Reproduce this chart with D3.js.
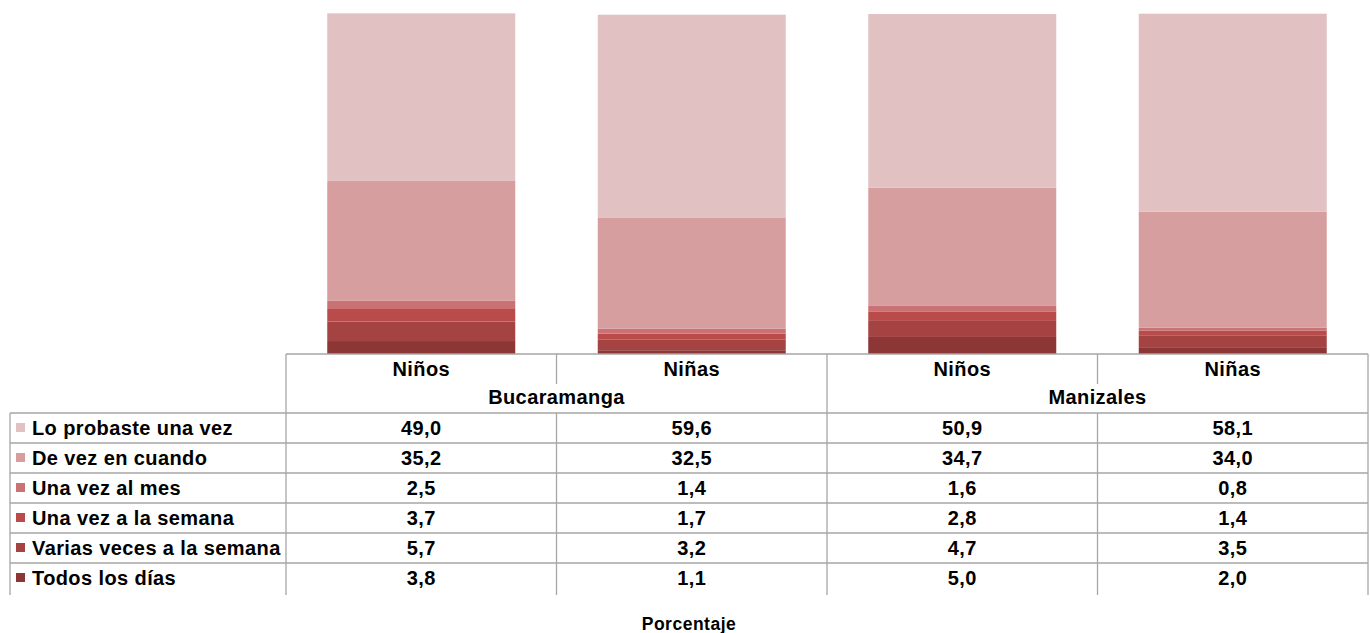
<!DOCTYPE html>
<html><head><meta charset="utf-8">
<script src="https://cdn.jsdelivr.net/npm/d3@7"></script>
<style>body{margin:0;background:#fff}svg{display:block;font-family:"Liberation Sans",Arial,sans-serif}</style>
</head><body><svg id="c" width="1370" height="633"></svg>
<script>
const groups = ["Niños","Niñas","Niños","Niñas"];
const cities = ["Bucaramanga","Manizales"];
const series = ["Lo probaste una vez","De vez en cuando","Una vez al mes","Una vez a la semana","Varias veces a la semana","Todos los días"];
const loProbaste = [49.0,59.6,50.9,58.1];
const deVez = [35.2,32.5,34.7,34.0];
const unaVezMes = [2.5,1.4,1.6,0.8];
const unaVezSemana = [3.7,1.7,2.8,1.4];
const variasVeces = [5.7,3.2,4.7,3.5];
const todosDias = [3.8,1.1,5.0,2.0];
const colors = ["#e2c1c3","#d69e9f","#c97173","#b94c4b","#a44342","#8c3636"];

const values = [loProbaste,deVez,unaVezMes,unaVezSemana,variasVeces,todosDias];
const svg = d3.select("#c");
const left=286, right=1368, tableLeft=10;
const plotBottom=354, plotTop=13;
const x = d3.scaleBand().domain(d3.range(4)).range([left,right]).paddingInner(0.305).paddingOuter(0.1525);
const colStep = (right-left)/4;
const y = d3.scaleLinear().domain([0,100]).range([plotBottom,plotTop]);

const rows = d3.range(4).map(i=>{const o={i};series.forEach((s,k)=>o[s]=values[k][i]);return o;});
const stackOrder = series.slice().reverse();
const stacked = d3.stack().keys(stackOrder)(rows);
svg.append("g").selectAll("g").data(stacked).join("g")
  .attr("fill",d=>colors[series.indexOf(d.key)])
  .selectAll("rect").data(d=>d).join("rect")
  .attr("x",d=>x(d.data.i)).attr("width",x.bandwidth())
  .attr("y",d=>y(d[1])).attr("height",d=>y(d[0])-y(d[1]));

const lineC="#a6a6a6";
const g=svg.append("g").attr("stroke",lineC).attr("stroke-width",1.3);
const rowH=30, headTop=354, headMid=384, bodyTop=413;
const rowYs = d3.range(7).map(k=>bodyTop+k*rowH);
const bottom = 595;
const colX = d3.range(5).map(k=>left+k*colStep);
g.append("line").attr("x1",left).attr("x2",right).attr("y1",headTop).attr("y2",headTop);
rowYs.slice(0,6).forEach(yy=>g.append("line").attr("x1",tableLeft).attr("x2",right).attr("y1",yy).attr("y2",yy));
g.append("line").attr("x1",tableLeft).attr("x2",tableLeft).attr("y1",bodyTop).attr("y2",bottom);
[0,2,4].forEach(k=>g.append("line").attr("x1",colX[k]).attr("x2",colX[k]).attr("y1",headTop).attr("y2",bottom));
[1,3].forEach(k=>{
  g.append("line").attr("x1",colX[k]).attr("x2",colX[k]).attr("y1",headTop).attr("y2",headMid);
  g.append("line").attr("x1",colX[k]).attr("x2",colX[k]).attr("y1",bodyTop).attr("y2",bottom);
});

const txt=svg.append("g").attr("font-weight","bold").attr("font-size",20).attr("letter-spacing",0.4).attr("fill","#000");
groups.forEach((gName,i)=>txt.append("text").attr("x",colX[i]+colStep/2).attr("y",headTop+22).attr("text-anchor","middle").text(gName));
cities.forEach((c,i)=>txt.append("text").attr("x",colX[i*2]+colStep).attr("y",headMid+20).attr("text-anchor","middle").text(c));
const fmt=v=>v.toFixed(1).replace(".",",");
series.forEach((s,k)=>{
  const yy=rowYs[k];
  svg.append("rect").attr("x",16).attr("y",yy+rowH/2-5).attr("width",9).attr("height",9).attr("fill",colors[k]);
  txt.append("text").attr("x",32).attr("y",yy+22).text(s);
  values[k].forEach((v,i)=>txt.append("text").attr("x",colX[i]+colStep/2).attr("y",yy+22).attr("text-anchor","middle").text(fmt(v)));
});
svg.append("text").attr("x",(tableLeft+right)/2).attr("y",630).attr("text-anchor","middle")
  .attr("font-weight","bold").attr("font-size",17.5).attr("letter-spacing",0.5).text("Porcentaje");
</script></body></html>
